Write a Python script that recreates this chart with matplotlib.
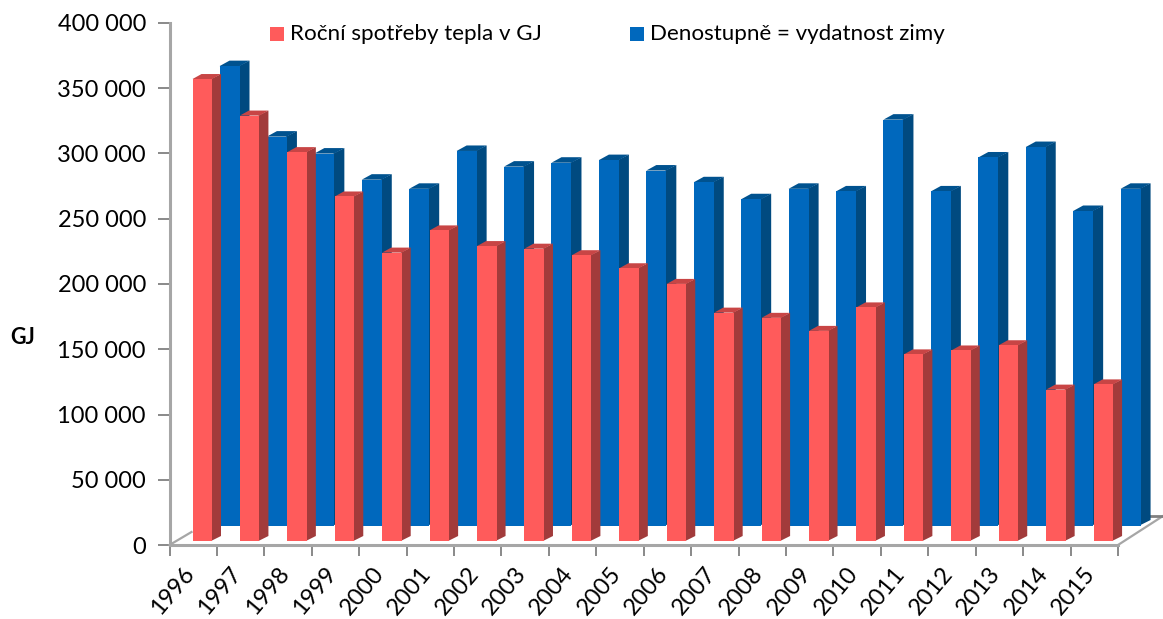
import matplotlib
matplotlib.use("Agg")
import matplotlib.pyplot as plt
from matplotlib.patches import Polygon, Rectangle

plt.rcParams['font.family'] = ['Lato', 'DejaVu Sans']

years = list(range(1996, 2016))
spotreba = [354000, 326000, 298000, 264000, 221000, 238000, 226000, 224000, 219000, 209000,
            197000, 175000, 171000, 161000, 179000, 143000, 146000, 150000, 116000, 120000]
denostupne = [352000, 298000, 285000, 265000, 258000, 287000, 275000, 278000, 280000, 272000,
              263000, 250000, 258000, 256000, 311000, 256000, 282000, 290000, 241000, 258000]
y_ticks = list(range(0, 400001, 50000))
y_labels = ["0", "50 000", "100 000", "150 000", "200 000", "250 000", "300 000", "350 000", "400 000"]
names = ["Roční spotřeby tepla v GJ", "Denostupně = vydatnost zimy"]

W, H = 1163, 619
L, R, T, B = 169.5, 1118, 23, 545
fig = plt.figure(figsize=(W / 100, H / 100), dpi=100)
ax = fig.add_axes([L / W, 1 - B / H, (R - L) / W, (B - T) / H])
ax.set_xlim(0, 20)
ax.set_ylim(0, 400000)
px = 20 / (R - L)
py = 400000 / (B - T)

for s in ['top', 'right']:
    ax.spines[s].set_visible(False)
for s in ['left', 'bottom']:
    ax.spines[s].set_color('#A6A6A6')
    ax.spines[s].set_linewidth(2.2)
ax.set_yticks(y_ticks, y_labels, fontsize=17, color='black')
ax.set_xticks(range(21), [''] * 21)
ax.tick_params(axis='y', length=9, width=1.3, color='#808080', pad=8)
ax.tick_params(axis='x', length=8, width=1.3, color='#808080')
for i, yr in enumerate(years):
    ax.annotate(str(yr), xy=(i + 0.5, 0), xytext=(-8, -13), textcoords='offset points',
                rotation=50, ha='right', va='top', rotation_mode='anchor', fontsize=17)

# floor outline
ax.add_line(plt.Line2D([0, 22 * px], [0, 13 * py], color='#A6A6A6', lw=1.6, clip_on=False))
ax.add_line(plt.Line2D([20, 20 + 45 * px], [0, 29 * py], color='#A6A6A6', lw=1.6, clip_on=False))
ax.add_line(plt.Line2D([20 + 32 * px, 20 + 45 * px], [29 * py, 29 * py], color='#808080', lw=2, clip_on=False))


def bars(vals, x0, w, d, dy, base, front, side, top, z):
    xs = [i + (x0 + w / 2) * px for i in range(len(vals))]
    ax.bar(xs, vals, width=w * px, bottom=base * py, color=front, zorder=z + 0.2, clip_on=False)
    for xc, v in zip(xs, vals):
        xl, xr = xc - w / 2 * px, xc + w / 2 * px
        yb, yt = base * py, base * py + v
        dx_, dy_ = d * px, dy * py
        ax.add_patch(Polygon([(xr - px, yb), (xr + dx_, yb + dy_), (xr + dx_, yt + dy_), (xr - px, yt)],
                             closed=True, fc=side, ec='none', zorder=z, clip_on=False))
        ax.add_patch(Polygon([(xl, yt), (xr, yt), (xr + dx_, yt + dy_), (xl + dx_, yt + dy_)],
                             closed=True, fc=top, ec='none', zorder=z + 0.1, clip_on=False))

bars(denostupne, 50, 20, 10, 5.5, 19.5, '#0068BD', '#004A80', '#00528F', 2)
bars(spotreba, 23, 19.5, 9, 5, 4, '#FF5B5B', '#A23B3B', '#C84545', 3)

# legend
for xpx, col, name in [(270, '#FF5B5B', names[0]), (630, '#0068BD', names[1])]:
    fig.add_artist(Rectangle((xpx / W, 1 - 41 / H), 14 / W, 14 / H, transform=fig.transFigure,
                             fc=col, ec='none'))
    fig.text((xpx + 20) / W, 1 - 34 / H, name, fontsize=16.1, va='center', ha='left')

fig.text(23 / W, 1 - 338 / H, "GJ", fontsize=15.5, fontweight='bold', ha='center', va='center')
fig.savefig('out.png', dpi=100)
